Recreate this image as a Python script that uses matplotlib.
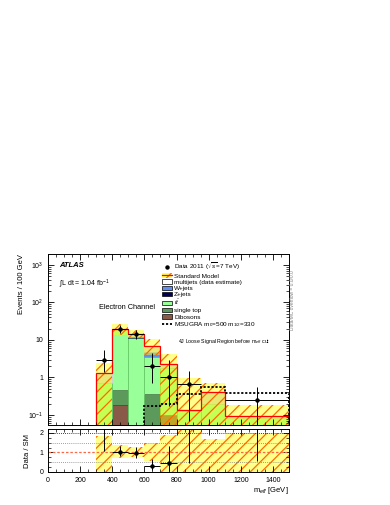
import numpy as np
import matplotlib
matplotlib.use("Agg")
import matplotlib.pyplot as plt
from matplotlib.patches import Patch
from matplotlib.lines import Line2D
from matplotlib.ticker import LogLocator, MultipleLocator, NullFormatter, FixedLocator

plt.rcParams['font.family'] = ['Liberation Sans', 'DejaVu Sans']
plt.rcParams['mathtext.fontset'] = 'custom'
plt.rcParams['mathtext.rm'] = 'Liberation Sans'
plt.rcParams['mathtext.it'] = 'Liberation Sans:italic'
plt.rcParams['hatch.linewidth'] = 0.9
plt.rcParams['hatch.color'] = '#ff6a00'

# -----------------------------
# DATA (events / 100 GeV)
# -----------------------------
edges = [300, 400, 500, 600, 700, 800, 950, 1100, 1500]
dibosons = [0.0, 0.19, 0.0, 0.0, 0.098, 0.0, 0.0, 0.0]
single_top = [0.0, 0.26, 0.0, 0.36, 0.0, 0.0, 0.0, 0.0]
ttbar = [0.71, 17.5, 11.3, 3.14, 1.68, 0.125, 0.20, 0.085]
zjets = [0.0, 0.0, 0.4, 0.0, 0.0, 0.0, 0.0, 0.0]
wjets = [0.0, 0.0, 0.0, 1.25, 0.0, 0.0, 0.0, 0.0]
multijets = [0.6, 1.5, 2.9, 2.35, 0.52, 0.013, 0.21, 0.006]
msugra = [0.001, 0.001, 0.001, 0.17, 0.20, 0.37, 0.55, 0.38]

band_up = [1.85, 1.38, 1.28, 1.47, 1.87, 7.2, 1.7, 1.97]
band_dn = [0.0, 0.70, 0.77, 0.55, 0.0, 0.0, 0.0, 0.0]

data_x = [350, 450, 550, 650, 750, 875, 1300]
data_xerr = [50, 50, 50, 50, 50, 75, 200]
data_y = [3.0, 20.0, 14.0, 2.0, 1.0, 0.667, 0.25]
data_lo = [1.6, 4.4, 3.7, 1.3, 0.83, 0.6, 0.2]
data_hi = [2.3, 5.5, 4.8, 2.6, 2.0, 0.8, 0.3]

# -----------------------------
# COLORS
# -----------------------------
C_DIB = "#8a5a48"
C_ST = "#5c9a5c"
C_TT = "#99ff99"
C_Z = "#00005a"
C_W = "#5f8ff0"
C_MJ = "#d6d6d6"
BAND_FACE = (1.0, 1.0, 0.0, 0.45)
BAND_HATCH = "#ff6a00"
HATCH = '///'

fig = plt.figure(figsize=(3.9, 5.05), dpi=100)
W, H = 390.0, 505.0
ax = fig.add_axes([48 / W, 1 - 425 / H, (289 - 48) / W, (425 - 254) / H])
rax = fig.add_axes([48 / W, 1 - 472 / H, (289 - 48) / W, (472 - 429) / H])

floor = 1e-3
layers = [(dibosons, C_DIB, "black"), (single_top, C_ST, "black"), (ttbar, C_TT, "#66cc66"),
          (zjets, C_Z, C_Z), (wjets, C_W, C_W), (multijets, C_MJ, C_MJ)]
bottom = np.zeros(len(ttbar))
for vals, fc, ec in layers:
    top = bottom + np.array(vals)
    b = np.where(bottom > 0, bottom, floor)
    for i in range(len(vals)):
        if vals[i] > 0:
            ax.stairs([top[i]], edges[i:i + 2], baseline=b[i], fill=True,
                      facecolor=fc, edgecolor=ec, lw=0.6)
    bottom = top
sm = bottom

# uncertainty band: translucent yellow, then orange hatch on top
up = sm * np.array(band_up)
dn = np.maximum(sm * np.array(band_dn), floor)
ax.stairs(up, edges, baseline=dn, fill=True, facecolor=BAND_FACE, lw=0)
ax.stairs(up, edges, baseline=dn, fill=True, facecolor="none",
          edgecolor=BAND_HATCH, hatch=HATCH, lw=0)
ax.stairs(sm, edges, baseline=floor, fill=False, color="red", lw=0.9)
ax.stairs(msugra, edges, baseline=floor, fill=False, color="black", lw=1.3,
          linestyle=(0, (1.2, 1.0)))

ax.errorbar(data_x, data_y, xerr=data_xerr, yerr=[data_lo, data_hi], fmt='o',
            ms=2.2, color="black", elinewidth=0.7, capsize=0)

ax.set_yscale("log")
ax.set_ylim(0.054, 1950)
ax.set_xlim(0, 1500)
ax.yaxis.set_major_locator(FixedLocator([0.1, 1, 10, 100, 1000]))
ax.set_yticklabels([r"$10^{-1}$", "1", "10", r"$10^{2}$", r"$10^{3}$"])
ax.yaxis.set_minor_locator(LogLocator(base=10, subs=np.arange(2, 10)))
ax.yaxis.set_minor_formatter(NullFormatter())
ax.xaxis.set_major_locator(MultipleLocator(200))
ax.xaxis.set_minor_locator(MultipleLocator(50))
ax.tick_params(axis='x', labelbottom=False)
ax.set_ylabel("Events / 100 GeV", fontsize=5.5, loc="top", labelpad=2)

for a in (ax, rax):
    a.tick_params(which='both', direction='in', top=True, right=True, labelsize=5)
    a.tick_params(which='major', length=4, width=0.6)
    a.tick_params(which='minor', length=2, width=0.5)
    for s in a.spines.values():
        s.set_linewidth(0.7)

# texts
ax.text(68, 900, "ATLAS", fontsize=5.5, fontweight='bold', style='italic')
ax.text(68, 270, r"$\int$L dt = 1.04 fb$^{-1}$", fontsize=5)
ax.text(315, 66, "Electron Channel", fontsize=5.3)
ax.text(808, 8.3, "4J Loose Signal Region before m$_{eff}$ cut", fontsize=3.8)
fig.text(292 / W, 1 - 300 / H, "Data/MC overflow = 0.0/0.0", rotation=90,
         fontsize=3.5, color="gray", ha="center", va="center")

# legend
handles = [
    Line2D([], [], marker='o', ms=2.2, color='black', lw=0),
    (Patch(facecolor=(1, 1, 0, 0.7), edgecolor=BAND_HATCH, hatch=HATCH, lw=0),
     Line2D([], [], color='red', lw=0.9)),
    Patch(facecolor='white', edgecolor='black', lw=0.5),
    Patch(facecolor=C_W, edgecolor='black', lw=0.5),
    Patch(facecolor=C_Z, edgecolor='black', lw=0.5),
    Patch(facecolor=C_TT, edgecolor='black', lw=0.5),
    Patch(facecolor=C_ST, edgecolor='black', lw=0.5),
    Patch(facecolor=C_DIB, edgecolor='black', lw=0.5),
    Line2D([], [], color='black', lw=1.3, linestyle=(0, (1.2, 1.0))),
]
labels = [r"Data 2011 ($\sqrt{s}$=7 TeV)", "Standard Model", "multijets (data estimate)",
          "W+jets", "Z+jets", r"$t\bar{t}$", "single top", "Dibosons",
          r"MSUGRA m$_0$=500 m$_{1/2}$=330"]
ax.legend(handles, labels, loc="upper left", bbox_to_anchor=(162 / W, 1 - 261 / H),
          bbox_transform=fig.transFigure, fontsize=4.6, frameon=False,
          handlelength=1.6, handleheight=0.7, handletextpad=0.3, labelspacing=0.12,
          borderpad=0, borderaxespad=0)

# ratio panel
idx = [0, 1, 2, 3, 4, 5, 7]
ratio = np.array(data_y) / sm[idx]
r_lo = np.array(data_lo) / sm[idx]
r_hi = np.array(data_hi) / sm[idx]
rax.stairs(band_up, edges, baseline=band_dn, fill=True, facecolor=BAND_FACE, lw=0)
rax.stairs(band_up, edges, baseline=band_dn, fill=True, facecolor="none",
           edgecolor=BAND_HATCH, hatch=HATCH, lw=0)
for yv in (0.5, 1.5, 2.0):
    rax.axhline(yv, color="gray" if yv != 2.0 else "black", lw=0.6, linestyle=(0, (1, 1.5)))
rax.axhline(1.0, color="#ff6644", lw=0.9, linestyle=(0, (2, 1.5)))
rax.errorbar(data_x, ratio, xerr=data_xerr, yerr=[r_lo, r_hi], fmt='o', ms=2.2,
             color="black", elinewidth=0.7, capsize=0)
rax.set_xlim(0, 1500)
rax.set_ylim(0, 2.2)
rax.yaxis.set_major_locator(FixedLocator([0, 1, 2]))
rax.yaxis.set_minor_locator(MultipleLocator(0.25))
rax.xaxis.set_major_locator(MultipleLocator(200))
rax.xaxis.set_minor_locator(MultipleLocator(50))
rax.set_ylabel("Data / SM", fontsize=5.5, labelpad=6)
rax.set_xlabel(r"m$_{eff}$ [GeV]", fontsize=5.5, loc="right", labelpad=1)

fig.savefig("out.png", dpi=100)
